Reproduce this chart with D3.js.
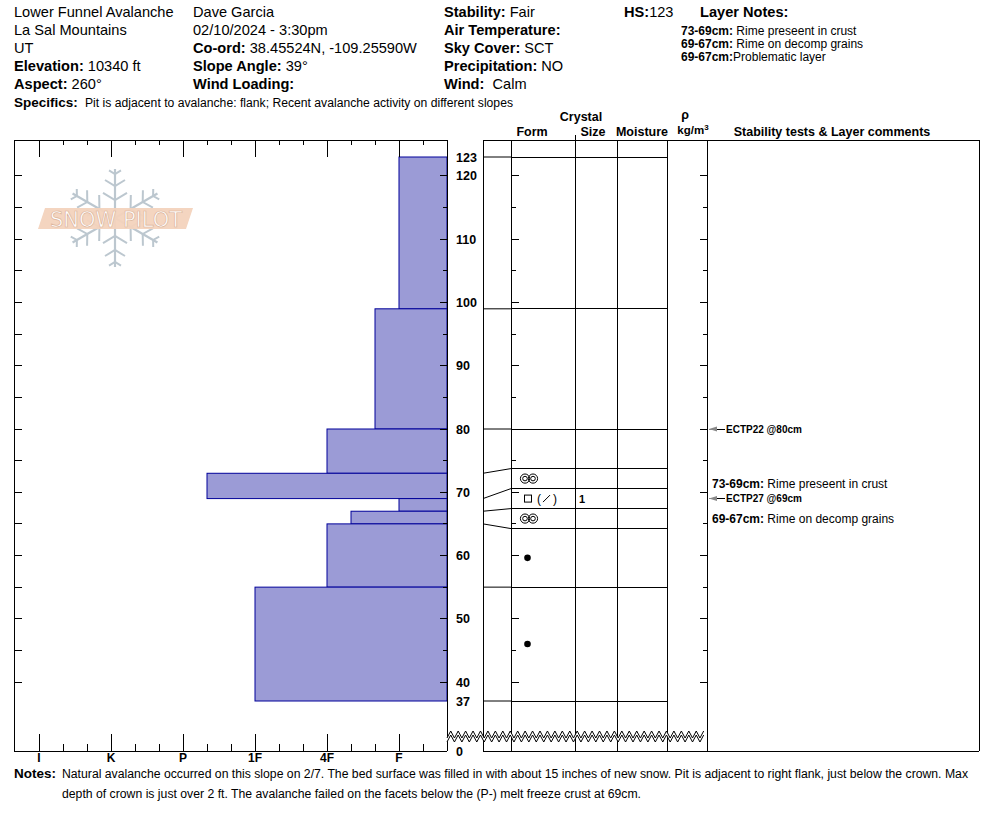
<!DOCTYPE html>
<html><head><meta charset="utf-8">
<script src="https://cdn.jsdelivr.net/npm/d3@7"></script>
<style>
body{margin:0;background:#fff}
svg{display:block}
text{font-family:"Liberation Sans",Arial,Helvetica,sans-serif;fill:#000}
</style>
</head><body>
<svg id="chart" width="994" height="840"></svg>
<script>
// ---------------- DATA ----------------
const layerTops      = [123, 99, 80, 73, 69, 67, 65, 55];
const layerBottoms   = [99, 80, 73, 69, 67, 65, 55, 37];
const layerHardness  = ["F", "F+", "4F", "P-", "F", "4F-", "4F", "1F"];
const layerForm      = ["", "", "", "MFcr", "FC", "MFcr", "RG", "RG"];
const layerForm2     = ["", "", "", "", "DF", "", "", ""];
const layerSize      = ["", "", "", "", "1", "", "", ""];
const hardnessTicks  = ["I", "K", "P", "1F", "4F", "F"];
const depthTicks     = [123, 120, 110, 100, 90, 80, 70, 60, 50, 40, 37];
const testDepths     = [80, 69];
const testLabels     = ["ECTP22 @80cm", "ECTP27 @69cm"];
const commentTops    = [73, 69];
const commentBottoms = [69, 67];
const commentTexts   = ["Rime preseent in crust", "Rime on decomp grains"];
const noteRanges     = ["73-69cm:", "69-67cm:", "69-67cm:"];
const noteTexts      = [" Rime preseent in crust", " Rime on decomp grains", "Problematic layer"];
const headerCol1 = [["", "Lower Funnel Avalanche"], ["", "La Sal Mountains"], ["", "UT"], ["Elevation:", " 10340 ft"], ["Aspect:", " 260°"]];
const headerCol2 = [["", "Dave Garcia"], ["", "02/10/2024 - 3:30pm"], ["Co-ord:", " 38.45524N, -109.25590W"], ["Slope Angle:", " 39°"], ["Wind Loading:", ""]];
const headerCol3 = [["Stability:", " Fair"], ["Air Temperature:", ""], ["Sky Cover:", " SCT"], ["Precipitation:", " NO"], ["Wind:", "  Calm"]];
const snowHeight = "123";
const specificsText = "Pit is adjacent to avalanche: flank; Recent avalanche activity on different slopes";
const notesLines = ["Natural avalanche occurred on this slope on 2/7. The bed surface was filled in with about 15 inches of new snow. Pit is adjacent to right flank, just below the crown. Max",
                    "depth of crown is just over 2 ft. The avalanche failed on the facets below the (P-) melt freeze crust at 69cm."];

// ---------------- LAYOUT ----------------
const svg = d3.select("#chart");
const topY = 140, botY = 751;
const L = {x0: 14, x1: 447};           // hardness chart
const R = {x0: 483, form: 511, size: 575, moist: 617, rho: 667, cmt: 707, x1: 979};

const y = d3.scaleLinear().domain([37, 123]).range([701, 157]);
const hx = d3.scaleLinear().domain([0, 18]).range([L.x1, 15]);
const hBase = {"F": 2, "4F": 5, "1F": 8, "P": 11, "K": 14, "I": 17};
function hardVal(h) {
  let v = hBase[h.replace(/[+-]$/, "")];
  if (h.endsWith("+")) v += 1;
  if (h.endsWith("-")) v -= 1;
  return v;
}

// ---------- header ----------
function headerCol(rows, x, size) {
  rows.forEach((r, i) => {
    const t = svg.append("text").attr("x", x).attr("y", 17 + i * 18.1).style("font-size", size + "px").style("white-space", "pre");
    if (r[0]) t.append("tspan").style("font-weight", "bold").text(r[0]);
    if (r[1]) t.append("tspan").text(r[1]);
  });
}
headerCol(headerCol1, 14, 14.6);
headerCol(headerCol2, 193, 14.6);
headerCol(headerCol3, 444, 14.6);
{
  const t = svg.append("text").attr("x", 624).attr("y", 17).style("font-size", "14.6px");
  t.append("tspan").style("font-weight", "bold").text("HS:");
  t.append("tspan").text(snowHeight);
  svg.append("text").attr("x", 700).attr("y", 17).style("font-size", "14.6px").style("font-weight", "bold").text("Layer Notes:");
  noteRanges.forEach((r, i) => {
    const n = svg.append("text").attr("x", 681).attr("y", 34.5 + i * 13).style("font-size", "12px").style("white-space", "pre");
    n.append("tspan").style("font-weight", "bold").text(r);
    n.append("tspan").text(noteTexts[i]);
  });
  svg.append("text").attr("x", 14).attr("y", 107).style("font-weight", "bold").style("font-size", "13.5px").text("Specifics:");
  svg.append("text").attr("x", 85).attr("y", 107).style("font-size", "12px")
    .attr("textLength", 428).attr("lengthAdjust", "spacingAndGlyphs").text(specificsText);
}

// column headers
const hdr = [["Crystal", 581, 121], ["Form", 532, 136], ["Size", 593, 136], ["Moisture", 642, 136],
             ["ρ", 685, 119], ["Stability tests & Layer comments", 832, 136]];
hdr.forEach(h => svg.append("text").attr("x", h[1]).attr("y", h[2]).attr("text-anchor", "middle")
  .style("font-size", "12.5px").style("font-weight", "bold").text(h[0]));
{
  const k = svg.append("text").attr("x", 693).attr("y", 134).attr("text-anchor", "middle")
    .style("font-size", "11.5px").style("font-weight", "bold");
  k.append("tspan").text("kg/m");
  k.append("tspan").attr("dy", -4).style("font-size", "8px").text("3");
}

const ln = (x1, y1, x2, y2, col) => svg.append("line").attr("x1", x1).attr("y1", y1).attr("x2", x2).attr("y2", y2)
  .attr("stroke", col || "#000").attr("stroke-width", 1).attr("shape-rendering", "crispEdges");
ln(R.size, 135, R.size, topY);

// ---------- logo (watermark) ----------
{
  const g = svg.append("g").attr("transform", "translate(115,218)");
  const c = "#bcc7cf";
  for (let a = 0; a < 6; a++) {
    const arm = g.append("g").attr("transform", `rotate(${a * 60 - 90})`);
    arm.append("line").attr("x1", 0).attr("y1", 0).attr("x2", 49).attr("y2", 0).attr("stroke", c).attr("stroke-width", 2.2);
    [[18, 12], [32, 10], [44, 6]].forEach(b => {
      arm.append("polyline").attr("points", `${b[0] + b[1] * 0.6},${-b[1]} ${b[0]},0 ${b[0] + b[1] * 0.6},${b[1]}`)
        .attr("fill", "none").attr("stroke", c).attr("stroke-width", 2);
    });
  }
  svg.append("polygon").attr("points", "45,208 193,208 186,229 38,229").attr("fill", "#f3d3bd").attr("opacity", 0.95);
  svg.append("text").attr("x", 116).attr("y", 227).attr("text-anchor", "middle")
    .style("font-size", "21px").style("font-family", '"DejaVu Sans",sans-serif')
    .style("fill", "#fff").attr("stroke", "#dcb49a").attr("stroke-width", 0.7)
    .attr("textLength", 132).attr("lengthAdjust", "spacingAndGlyphs").text("SNOW PILOT");
}

// ---------- hardness bars ----------
const layers = layerTops.map((t, i) => ({top: t, bottom: layerBottoms[i], hard: layerHardness[i],
  form: layerForm[i], form2: layerForm2[i], size: layerSize[i]}));
svg.append("g").selectAll("rect").data(layers).join("rect")
  .attr("x", d => hx(hardVal(d.hard)))
  .attr("y", d => y(d.top))
  .attr("width", d => L.x1 - hx(hardVal(d.hard)))
  .attr("height", d => y(d.bottom) - y(d.top))
  .attr("fill", "#9b9bd6").attr("stroke", "#000099").attr("stroke-width", 1);

// ---------- left chart frame ----------
ln(L.x0, topY, L.x1, topY);
ln(L.x0, topY, L.x0, botY);
ln(L.x0, botY, L.x1, botY);
ln(L.x1, topY, L.x1, botY);

// hardness ticks
const majorH = hardnessTicks.map(h => hardVal(h));
const minorH = d3.range(1, 17).filter(v => !majorH.includes(v));
majorH.forEach(v => { ln(hx(v), topY, hx(v), topY + 17); ln(hx(v), botY, hx(v), botY - 17); });
minorH.forEach(v => { ln(hx(v), topY, hx(v), topY + 5); ln(hx(v), botY, hx(v), botY - 7); });
svg.append("g").selectAll("text").data(hardnessTicks).join("text")
  .attr("x", d => hx(hardVal(d))).attr("y", 762).attr("text-anchor", "middle")
  .style("font-size", "12px").style("font-weight", "bold").text(d => d);

// depth ticks (every 5 cm)
const tickDepths = d3.range(40, 121, 5);
tickDepths.forEach(d => {
  const major = d % 10 === 0;
  ln(L.x0, y(d), L.x0 + 8, y(d));
  ln(L.x1 - (major ? 7 : 4), y(d), L.x1, y(d));
  ln(R.form, y(d), R.form + (major ? 8 : 5), y(d));
  ln(R.cmt - (major ? 7 : 4), y(d), R.cmt, y(d));
});
svg.append("g").selectAll("text").data(depthTicks).join("text")
  .attr("x", 456).attr("y", d => y(d) + 4.5)
  .style("font-size", "12.5px").style("font-weight", "bold").text(d => d);
svg.append("text").attr("x", 456).attr("y", 756).style("font-size", "12.5px").style("font-weight", "bold").text("0");

// ---------- right chart ----------
ln(R.x0, topY, R.x1, topY);
ln(R.x0, botY, R.x1, botY);
[R.x0, R.form, R.size, R.moist, R.rho, R.cmt, R.x1].forEach(x => ln(x, topY, x, botY));

// layer boundary display positions (spread crowded boundaries to >= 20px)
const bounds = layerTops.concat([layerBottoms[layerBottoms.length - 1]]);
const actual = bounds.map(d => y(d));
const minGap = 20;
let clusters = actual.map((a, i) => [i, i]);
function place(cl) {
  const pos = actual.slice();
  cl.forEach(([a, b]) => {
    if (b > a) {
      const mid = (actual[a] + actual[b]) / 2;
      for (let m = a; m <= b; m++) pos[m] = mid - (b - a) * minGap / 2 + (m - a) * minGap;
    }
  });
  return pos;
}
let grid = place(clusters);
for (let iter = 0; iter < 50; iter++) {
  let merged = false;
  for (let k = 0; k < clusters.length - 1; k++) {
    if (grid[clusters[k + 1][0]] - grid[clusters[k][1]] < minGap) {
      clusters.splice(k, 2, [clusters[k][0], clusters[k + 1][1]]);
      merged = true; break;
    }
  }
  grid = place(clusters);
  if (!merged) break;
}
bounds.forEach((d, i) => {
  svg.append("line").attr("x1", R.x0).attr("y1", actual[i]).attr("x2", R.form).attr("y2", grid[i]).attr("stroke", "#000");
  ln(R.form, grid[i], R.rho, grid[i]);
});

// grain form symbols
layers.forEach((d, i) => {
  const cy = (grid[i] + grid[i + 1]) / 2;
  const g = svg.append("g");
  if (d.form === "MFcr") {
    [525, 533].forEach(cx => {
      g.append("circle").attr("cx", cx).attr("cy", cy).attr("r", 4.6).attr("fill", "none").attr("stroke", "#000").attr("stroke-width", 1);
      g.append("circle").attr("cx", cx).attr("cy", cy).attr("r", 2.3).attr("fill", "none").attr("stroke", "#000").attr("stroke-width", 1);
    });
  } else if (d.form === "RG") {
    g.append("circle").attr("cx", 527.5).attr("cy", cy).attr("r", 3.3).attr("fill", "#000");
  } else if (d.form === "FC") {
    g.append("rect").attr("x", 524.5).attr("y", cy - 3.5).attr("width", 7).attr("height", 7).attr("fill", "none").attr("stroke", "#000");
    if (d.form2 === "DF") {
      g.append("text").attr("x", 537).attr("y", cy + 4).style("font-size", "12px").text("(");
      g.append("line").attr("x1", 543).attr("y1", cy + 3.5).attr("x2", 550).attr("y2", cy - 3.5).attr("stroke", "#000");
      g.append("text").attr("x", 553).attr("y", cy + 4).style("font-size", "12px").text(")");
    }
  }
  if (d.size) svg.append("text").attr("x", 579).attr("y", cy + 4).style("font-size", "11px").style("font-weight", "bold").text(d.size);
});

// stability tests
testDepths.forEach((d, i) => {
  const ty = y(d);
  ln(715, ty, 725, ty, "#000");
  svg.append("polygon").attr("points", `${R.cmt + 2},${ty} ${R.cmt + 10},${ty - 2.5} ${R.cmt + 10},${ty + 2.5}`).attr("fill", "#888");
  ln(R.cmt + 2, ty, 716, ty, "#888");
  svg.append("text").attr("x", 726).attr("y", ty + 3.8).style("font-size", "10px").style("font-weight", "bold").text(testLabels[i]);
});

// layer comments
const fixedY = testDepths.map(d => y(d));
commentTops.forEach((t, i) => {
  const idx = bounds.indexOf(t);
  let cy = grid[idx] + 15;
  fixedY.forEach(f => { if (Math.abs(cy - f) < 12) cy = f + 20; });
  const c = svg.append("text").attr("x", 712).attr("y", cy + 4).style("font-size", "12px");
  c.append("tspan").style("font-weight", "bold").text(`${t}-${commentBottoms[i]}cm:`);
  c.append("tspan").text(" " + commentTexts[i]);
});

// ---------- broken-axis zigzag ----------
{
  const x0 = L.x1, x1 = R.cmt, step = 3.72;
  const pts1 = [], pts2 = [];
  let k = 0;
  for (let x = x0; x <= x1 + 0.01; x += step, k++) {
    const yy = k % 2 === 0 ? 738 : 731;
    pts1.push([x, yy]); pts2.push([x, yy + 4]);
  }
  const poly = pts1.concat(pts2.slice().reverse());
  svg.append("polygon").attr("points", poly.map(p => p.join(",")).join(" ")).attr("fill", "#fff").attr("stroke", "none");
  const line = d3.line();
  svg.append("path").attr("d", line(pts1)).attr("fill", "none").attr("stroke", "#000");
  svg.append("path").attr("d", line(pts2)).attr("fill", "none").attr("stroke", "#000");
}

// ---------- notes ----------
{
  svg.append("text").attr("x", 14).attr("y", 778).style("font-weight", "bold").style("font-size", "13.5px").text("Notes:");
  svg.append("text").attr("x", 62).attr("y", 778).style("font-size", "12px")
    .attr("textLength", 906).attr("lengthAdjust", "spacingAndGlyphs").text(notesLines[0]);
  svg.append("text").attr("x", 62).attr("y", 798).style("font-size", "12px")
    .attr("textLength", 579).attr("lengthAdjust", "spacingAndGlyphs").text(notesLines[1]);
}
</script>
</body></html>
